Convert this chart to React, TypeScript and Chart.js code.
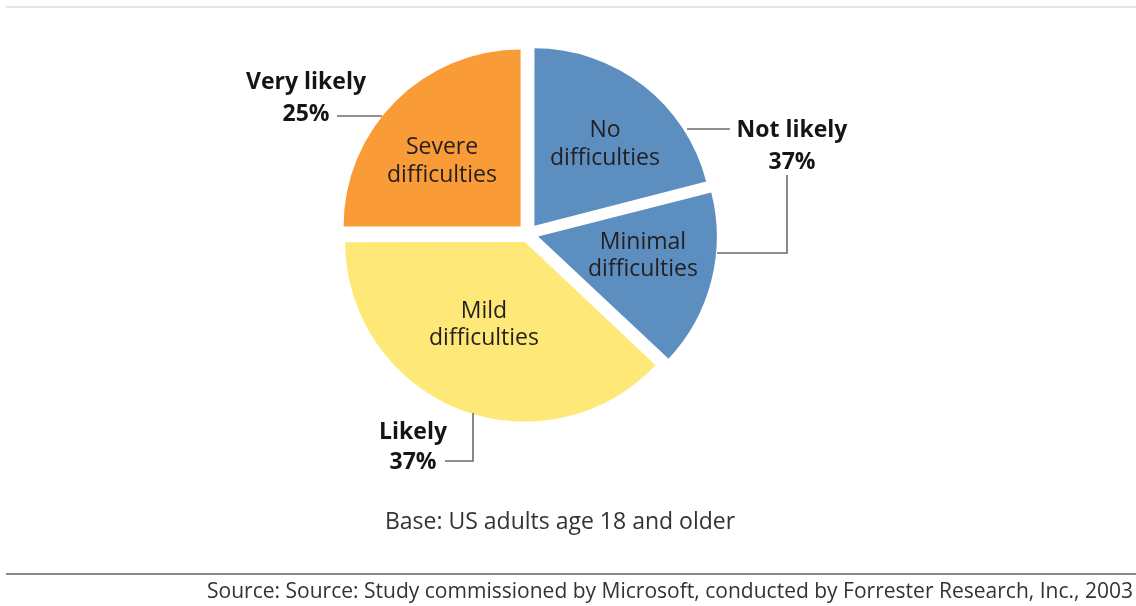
import React, { useEffect, useRef } from "react";
import { Chart, registerables } from "chart.js";

Chart.register(...registerables);

// Data
const categories = ["No difficulties", "Minimal difficulties", "Mild difficulties", "Severe difficulties"];
const categoryLines = [["No", "difficulties"], ["Minimal", "difficulties"], ["Mild", "difficulties"], ["Severe", "difficulties"]];
const values = [21, 16, 38, 25];
const sliceColors = ["#5C8EC0", "#5C8EC0", "#FEE877", "#F99B37"];
const groupNames = ["Not likely", "Likely", "Very likely"];
const groupPercents = ["37%", "37%", "25%"];
const baseNote = "Base: US adults age 18 and older";
const sourceNote = "Source: Source: Study commissioned by Microsoft, conducted by Forrester Research, Inc., 2003";

const FONT = "'Open Sans', 'Noto Sans', sans-serif";

const annotationPlugin = {
  id: "annotations",
  afterDraw(chart: any) {
    const ctx = chart.ctx as CanvasRenderingContext2D;
    ctx.save();

    // frame lines
    ctx.strokeStyle = "#dcdcdc";
    ctx.lineWidth = 1.5;
    ctx.beginPath();
    ctx.moveTo(6, 7);
    ctx.lineTo(1136, 7);
    ctx.stroke();
    ctx.strokeStyle = "#8a8a8a";
    ctx.lineWidth = 2;
    ctx.beginPath();
    ctx.moveTo(6, 574);
    ctx.lineTo(1136, 574);
    ctx.stroke();

    // inner slice labels
    const innerPos = [
      [605, 130, 158],
      [643, 242, 269],
      [484, 311, 338],
      [442, 147, 175],
    ];
    ctx.fillStyle = "#231f20";
    ctx.font = `23px ${FONT}`;
    ctx.textAlign = "center";
    ctx.textBaseline = "middle";
    categoryLines.forEach((lines, i) => {
      const [x, y1, y2] = innerPos[i];
      ctx.fillText(lines[0], x, y1);
      ctx.fillText(lines[1], x, y2);
    });

    // leader lines
    ctx.strokeStyle = "#6b6b6b";
    ctx.lineWidth = 1.6;
    const paths = [
      [[687, 129], [730, 129]],
      [[787, 175], [787, 253], [717, 253]],
      [[445, 461], [473, 461], [473, 413]],
      [[337, 116], [382, 116]],
    ];
    paths.forEach((p) => {
      ctx.beginPath();
      ctx.moveTo(p[0][0], p[0][1]);
      for (let k = 1; k < p.length; k++) ctx.lineTo(p[k][0], p[k][1]);
      ctx.stroke();
    });

    // group labels
    const groupPos = [
      [792, 130, 162],
      [413, 432, 462],
      [306, 82, 114],
    ];
    ctx.fillStyle = "#151515";
    ctx.font = `bold 23px ${FONT}`;
    groupNames.forEach((name, i) => {
      const [x, y1, y2] = groupPos[i];
      ctx.fillText(name, x, y1);
      ctx.fillText(groupPercents[i], x, y2);
    });

    // base note
    ctx.fillStyle = "#333333";
    ctx.font = `23px ${FONT}`;
    ctx.fillText(baseNote, 560, 522);

    // source
    ctx.font = `22px ${FONT}`;
    ctx.textAlign = "right";
    ctx.fillText(sourceNote, 1133, 592, 926);

    ctx.restore();
  },
};

export default function App() {
  const canvasRef = useRef<HTMLCanvasElement | null>(null);

  useEffect(() => {
    if (!canvasRef.current) return;
    const chart = new Chart(canvasRef.current, {
      type: "pie",
      data: {
        labels: categories,
        datasets: [
          {
            data: values,
            backgroundColor: sliceColors,
            borderWidth: 0,
            offset: [42, 42, 34, 42],
            hoverOffset: 0,
          },
        ],
      },
      options: {
        responsive: false,
        animation: false,
        devicePixelRatio: 1,
        layout: { padding: { left: 330, top: 36, right: 410, bottom: 174 } },
        plugins: {
          legend: { display: false },
          tooltip: { enabled: false },
        },
      },
      plugins: [annotationPlugin],
    });
    return () => chart.destroy();
  }, []);

  return (
    <div style={{ position: "absolute", left: 0, top: 0, width: 1136, height: 606, background: "#ffffff" }}>
      <canvas ref={canvasRef} width={1136} height={606} style={{ display: "block" }} />
    </div>
  );
}
